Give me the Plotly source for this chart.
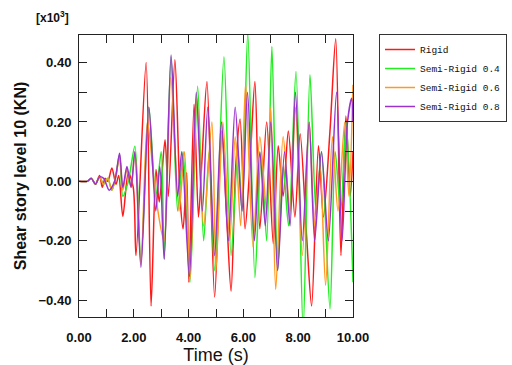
import plotly.graph_objects as go

# Time/value extrema (values in x10^3 kN)
t_rigid = [0, 0.3, 0.45, 0.6, 0.75, 0.85, 0.95, 1.05, 1.2, 1.35, 1.45, 1.6, 1.8, 1.98, 2.08, 2.45, 2.63, 2.81, 2.93, 3.14, 3.26, 3.50, 3.69, 3.80, 3.93, 4.01, 4.2, 4.36, 4.48, 4.67, 4.95, 5.21, 5.39, 5.55, 5.72, 5.88, 6.06, 6.24, 6.42, 6.6, 6.85, 7.09, 7.27, 7.45, 7.64, 7.88, 8.07, 8.31, 8.49, 8.74, 8.92, 9.16, 9.37, 9.56, 9.74, 9.9, 10.0]
v_rigid = [0, 0.0, 0.01, -0.01, 0.02, -0.02, 0.01, 0.0, 0.045, -0.01, 0.02, -0.118, 0.03, -0.02, -0.25, 0.40, -0.42, 0.04, -0.07, 0.14, -0.05, 0.41, -0.06, -0.16, 0.03, -0.34, 0.26, -0.12, 0.06, 0.336, -0.39, 0.17, -0.12, -0.37, 0.05, 0.21, -0.16, 0.06, 0.336, -0.16, 0.2, -0.21, 0.12, -0.05, 0.17, -0.12, 0.16, -0.19, -0.42, 0.12, -0.12, 0.17, 0.48, -0.25, 0.22, -0.05, 0.1]

t_s04 = [0, 0.3, 0.45, 0.6, 0.75, 0.9, 1.05, 1.2, 1.35, 1.48, 1.6, 1.8, 2.04, 2.26, 2.55, 2.8, 3.0, 3.11, 3.36, 3.6, 3.8, 4.05, 4.33, 4.55, 4.75, 4.95, 5.29, 5.55, 5.8, 5.95, 6.16, 6.42, 6.65, 6.85, 7.04, 7.25, 7.45, 7.65, 7.92, 8.18, 8.43, 8.65, 8.85, 9.16, 9.35, 9.55, 9.75, 10.0]
v_s04 = [0, 0.0, 0.01, -0.01, 0.015, -0.01, 0.01, -0.03, 0.02, 0.09, -0.05, 0.0, 0.118, -0.27, 0.25, -0.05, 0.1, -0.26, 0.42, -0.1, 0.1, -0.34, 0.32, -0.2, 0.1, -0.3, 0.42, -0.25, 0.1, -0.1, 0.50, -0.324, 0.1, -0.2, 0.454, -0.3, 0.05, -0.15, 0.37, -0.50, 0.359, -0.1, 0.1, -0.43, 0.1, -0.1, 0.2, -0.34]

t_s06 = [0, 0.3, 0.45, 0.6, 0.75, 0.9, 1.05, 1.2, 1.35, 1.48, 1.6, 1.75, 1.9, 2.04, 2.26, 2.5, 2.8, 3.1, 3.35, 3.65, 3.85, 4.05, 4.3, 4.55, 4.85, 5.0, 5.25, 5.5, 5.7, 5.9, 6.08, 6.35, 6.6, 6.85, 7.0, 7.18, 7.45, 7.7, 7.9, 8.15, 8.4, 8.6, 8.8, 9.0, 9.25, 9.45, 9.7, 9.85, 10.0]
v_s06 = [0, 0.0, 0.01, -0.01, 0.015, -0.01, 0.01, -0.03, 0.02, 0.085, -0.03, 0.04, -0.02, 0.1, -0.28, 0.2, -0.05, -0.2, 0.35, -0.1, 0.1, -0.33, 0.28, -0.15, 0.2, -0.3, 0.2, -0.2, 0.15, -0.15, 0.33, -0.22, 0.15, -0.1, 0.25, -0.364, 0.15, -0.1, 0.25, -0.25, 0.2, -0.15, 0.05, -0.35, 0.15, -0.1, 0.2, -0.05, 0.325]

t_s08 = [0, 0.3, 0.45, 0.6, 0.75, 0.9, 1.1, 1.3, 1.48, 1.6, 1.75, 1.9, 2.04, 2.26, 2.55, 2.8, 2.95, 3.11, 3.36, 3.6, 3.75, 4.03, 4.28, 4.5, 4.7, 4.95, 5.2, 5.45, 5.7, 5.95, 6.15, 6.4, 6.6, 6.8, 7.0, 7.25, 7.5, 7.7, 7.9, 8.15, 8.4, 8.6, 8.85, 9.1, 9.4, 9.6, 9.8, 9.95, 10.0]
v_s08 = [0, 0.0, 0.01, -0.01, 0.015, 0.01, -0.03, 0.0, 0.095, -0.02, 0.05, -0.02, 0.1, -0.29, 0.25, -0.1, 0.05, -0.263, 0.426, -0.05, 0.1, -0.32, 0.3, -0.1, 0.25, -0.25, 0.2, -0.2, 0.25, -0.1, 0.3, -0.2, 0.1, -0.15, 0.2, -0.3, 0.1, -0.15, 0.3, -0.2, 0.2, -0.2, 0.1, -0.2, 0.30, -0.2, 0.2, 0.28, 0.2]

names = ["Rigid", "Semi-Rigid 0.4", "Semi-Rigid 0.6", "Semi-Rigid 0.8"]
colors = ["#ff1a1a", "#22ee22", "#ff9922", "#9933cc"]
series = [(t_rigid, v_rigid), (t_s04, v_s04), (t_s06, v_s06), (t_s08, v_s08)]

fig = go.Figure()
for (t, v), n, c in zip(series, names, colors):
    fig.add_trace(go.Scatter(x=t, y=v, mode="lines", name=n,
                             line=dict(color=c, width=1.5, shape="spline", smoothing=0.8)))

axis_common = dict(showline=True, linecolor="#222", linewidth=1, mirror="allticks",
                   ticks="inside", ticklen=8, tickcolor="#222", showgrid=False, zeroline=False,
                   tickformat=".2f",
                   tickfont=dict(family="Liberation Sans, Arial", size=13, color="#111", weight="bold"))

fig.update_layout(
    width=512, height=365,
    margin=dict(l=79, r=159, t=35, b=48, autoexpand=False),
    paper_bgcolor="white", plot_bgcolor="white",
    xaxis=dict(range=[0, 10], tickvals=[0, 2, 4, 6, 8, 10], ticklabelstandoff=8,
               minor=dict(dtick=1, ticks="inside", ticklen=8, tickcolor="#222"),
               title=dict(text="Time (s)", standoff=4,
                          font=dict(family="Liberation Sans, Arial", size=18, color="#111")),
               **axis_common),
    yaxis=dict(range=[-0.457, 0.493], tickvals=[-0.4, -0.2, 0, 0.2, 0.4], ticklabelstandoff=4,
               minor=dict(tickvals=[-0.3, -0.1, 0.1, 0.3], ticks="inside", ticklen=8, tickcolor="#222"),
               title=dict(text="Shear story level 10 (KN)", standoff=7,
                          font=dict(family="Liberation Sans, Arial", size=16, color="#111", weight="bold")),
               **axis_common),
    legend=dict(xref="container", yref="container", x=379/512, y=1 - 34/365,
                xanchor="left", yanchor="top",
                bordercolor="#333", borderwidth=1, bgcolor="white",
                font=dict(family="Liberation Mono, Courier New", size=9.5, color="#111"),
                tracegroupgap=0, itemwidth=30),
    showlegend=True,
)
fig.add_annotation(text="[x10<sup>3</sup>]", xref="paper", yref="paper", x=-0.165, y=1.03,
                   xanchor="left", yanchor="bottom", showarrow=False,
                   font=dict(family="Liberation Sans, Arial", size=12, color="#111", weight="bold"))

fig.write_html("out.html")
